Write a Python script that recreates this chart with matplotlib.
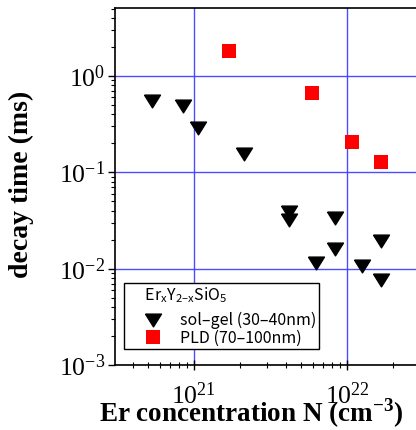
import matplotlib
matplotlib.use("Agg")
import matplotlib.pyplot as plt
from matplotlib.lines import Line2D

# Data
solgel_N = [5.3e20, 8.5e20, 1.06e21, 2.12e21, 4.2e21, 4.2e21, 8.3e21, 8.3e21,
            6.3e21, 1.26e22, 1.68e22, 1.68e22]
solgel_tau = [0.553, 0.488, 0.29, 0.155, 0.039, 0.0318, 0.0333, 0.0159,
              0.0114, 0.0106, 0.0192, 0.0076]
pld_N = [1.69e21, 5.87e21, 1.08e22, 1.67e22]
pld_tau = [1.82, 0.66, 0.208, 0.127]

legend_title = "     Er$_\\mathregular{x}$Y$_\\mathregular{2\u2013x}$SiO$_\\mathregular{5}$"
label_solgel = "sol\u2013gel (30\u201340nm)"
label_pld = "PLD (70\u2013100nm)"

serif = ["Liberation Serif", "DejaVu Serif"]
sans = ["Noto Sans CJK JP", "DejaVu Sans"]
plt.rcParams["font.family"] = serif
plt.rcParams["mathtext.fontset"] = "custom"
plt.rcParams["mathtext.rm"] = "Liberation Serif"
plt.rcParams["mathtext.bf"] = "Liberation Serif:bold"

fig = plt.figure(figsize=(4.16, 4.30), dpi=100)
W, H = 416, 430
left_px, right_px, top_px, bot_px = 115, 423.5, 8, 365
ax = fig.add_axes([left_px / W, (H - bot_px) / H, (right_px - left_px) / W, (bot_px - top_px) / H])
ax.set_xscale("log")
ax.set_yscale("log")
ax.set_xlim(10 ** 20.484, 10 ** 22.5)
ax.set_ylim(1e-3, 10 ** 0.706)

tri = [(-1, 0.8), (1, 0.8), (0, -0.8), (-1, 0.8)]
ax.plot(solgel_N, solgel_tau, linestyle="none", marker=tri, markersize=11.5,
        color="black", zorder=3)
ax.plot(pld_N, pld_tau, linestyle="none", marker="s", markersize=9.4,
        color="#ff0000", markeredgewidth=0, zorder=3)

ax.grid(True, which="major", color="#3a3aff", linewidth=1.0, alpha=0.9)
ax.set_axisbelow(True)

ax.spines["right"].set_visible(False)
for s in ["left", "bottom", "top"]:
    ax.spines[s].set_linewidth(1.2)

ax.tick_params(axis="y", which="major", direction="out", length=5, width=1.0, labelsize=18.5, pad=2)
ax.tick_params(axis="y", which="minor", direction="out", length=3, width=0.8)
ax.tick_params(axis="x", which="major", direction="inout", length=7, width=1.0, labelsize=18.5, pad=9)
ax.tick_params(axis="x", which="minor", direction="inout", length=5, width=0.8)

ax.set_xlabel("Er concentration N (cm$^\\mathbf{-3}$)", fontsize=19.5, fontweight="bold")
ax.set_ylabel("decay time (ms)", fontsize=20, fontweight="bold")
ax.xaxis.set_label_coords(0.441, -0.089)
ax.yaxis.set_label_coords(-0.262, 0.507)

handles = [
    Line2D([], [], linestyle="none", marker=tri, markersize=11.5, color="black"),
    Line2D([], [], linestyle="none", marker="s", markersize=9.4, color="#ff0000", markeredgewidth=0),
]
leg = ax.legend(handles, [label_solgel, label_pld], title=legend_title,
                loc="lower left", bbox_to_anchor=(0.03, 0.044), borderaxespad=0,
                fancybox=False, edgecolor="black", framealpha=1,
                prop={"family": sans, "size": 11.5},
                title_fontproperties={"family": sans, "size": 11.5},
                alignment="left", handletextpad=0.05, labelspacing=0.05,
                borderpad=0.15, handlelength=3.3)
leg._legend_box.sep = 5
leg.get_frame().set_linewidth(1.0)

fig.savefig("out.png", dpi=100)
